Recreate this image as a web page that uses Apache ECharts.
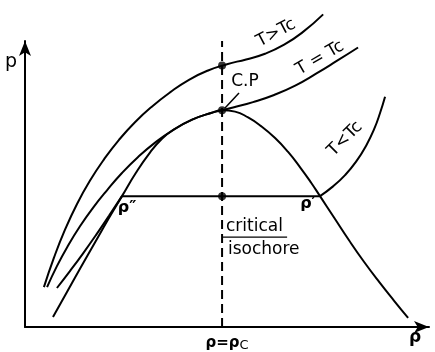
<!DOCTYPE html>
<html>
<head>
<meta charset="utf-8">
<script src="https://cdn.jsdelivr.net/npm/echarts@6/dist/echarts.min.js"></script>
<style>
  html, body { margin: 0; padding: 0; background: #fff; }
  #chart { width: 435px; height: 352px; }
</style>
</head>
<body>
<div id="chart"></div>
<script>
"use strict";

// density in units of rho_c, pressure in units of p_c
var isothermAbove = [
  [0.096, 0.184], [0.147, 0.320], [0.203, 0.449], [0.264, 0.568], [0.330, 0.676],
  [0.401, 0.774], [0.477, 0.864], [0.558, 0.945], [0.645, 1.018], [0.736, 1.083],
  [0.832, 1.141], [0.929, 1.184], [1.025, 1.213], [1.122, 1.235], [1.218, 1.261],
  [1.315, 1.303], [1.411, 1.362], [1.513, 1.443]
];
var isothermCritical = [
  [0.112, 0.184], [0.162, 0.281], [0.218, 0.375], [0.279, 0.465], [0.345, 0.550],
  [0.416, 0.631], [0.492, 0.711], [0.574, 0.785], [0.660, 0.851], [0.751, 0.909],
  [0.848, 0.957], [0.944, 0.988], [1.000, 1.000], [1.056, 1.013], [1.157, 1.038],
  [1.264, 1.071], [1.371, 1.114], [1.477, 1.169], [1.584, 1.229], [1.690, 1.290]
];
var coexistence = [
  [0.142, 0.046], [0.213, 0.162], [0.284, 0.277], [0.355, 0.390], [0.426, 0.503],
  [0.492, 0.604], [0.563, 0.712], [0.635, 0.806], [0.695, 0.869], [0.751, 0.909],
  [0.848, 0.957], [0.944, 0.988], [1.000, 1.000], [1.066, 0.994], [1.132, 0.967],
  [1.198, 0.927], [1.269, 0.872], [1.335, 0.808], [1.396, 0.737], [1.452, 0.666],
  [1.497, 0.604], [1.569, 0.504], [1.645, 0.399], [1.721, 0.300], [1.797, 0.208],
  [1.873, 0.121], [1.944, 0.042]
];
var belowGas = [
  [0.162, 0.180], [0.228, 0.258], [0.294, 0.339], [0.360, 0.424], [0.426, 0.513],
  [0.492, 0.604]
];
var tieLine = [[0.492, 0.604], [1.497, 0.604]];
var belowLiquid = [
  [1.497, 0.604], [1.563, 0.649], [1.624, 0.701], [1.680, 0.763], [1.731, 0.837],
  [1.772, 0.914], [1.802, 0.989], [1.827, 1.063]
];
var criticalIsochore = [[1, 0], [1, 1.32]];
var isochoreLeader = [[1, 0.415], [1.33, 0.415]];
var markedPoints = [[1, 1.207], [1, 1], [1, 0.604]];

var curveNames = ['T>Tc', 'T = Tc', 'T<Tc'];

var chart = echarts.init(document.getElementById('chart'));
var font = '"DejaVu Sans", sans-serif';

function curve(data, extra) {
  return Object.assign({
    type: 'line',
    data: data,
    smooth: true,
    symbol: 'none',
    clip: false,
    silent: true,
    lineStyle: { color: '#000', width: 2 }
  }, extra || {});
}

function label(text, x, y, size, deg, weight) {
  return {
    type: 'text',
    x: x,
    y: y,
    rotation: (deg || 0) * Math.PI / 180,
    style: {
      text: text,
      font: (weight || 'normal') + ' ' + size + 'px ' + font,
      fill: '#000',
      align: 'center',
      verticalAlign: 'middle'
    }
  };
}

var option = {
  animation: false,
  backgroundColor: '#fff',
  grid: { left: 25, right: 6, top: 41, bottom: 25 },
  xAxis: {
    type: 'value',
    min: 0,
    max: 2.05,
    axisLine: {
      lineStyle: { color: '#000', width: 2 },
      symbol: ['none', 'arrow'],
      symbolSize: [9, 15]
    },
    axisTick: { show: false },
    axisLabel: { show: false },
    splitLine: { show: false }
  },
  yAxis: {
    type: 'value',
    min: 0,
    max: 1.32,
    axisLine: {
      lineStyle: { color: '#000', width: 2 },
      symbol: ['none', 'arrow'],
      symbolSize: [9, 15]
    },
    axisTick: { show: false },
    axisLabel: { show: false },
    splitLine: { show: false }
  },
  series: [
    curve(isothermAbove),
    curve(isothermCritical),
    curve(coexistence),
    curve(belowGas),
    curve(tieLine, { smooth: false }),
    curve(belowLiquid),
    curve(criticalIsochore, { smooth: false, lineStyle: { color: '#000', width: 2, type: [9, 5] } }),
    curve(isochoreLeader, { smooth: false, lineStyle: { color: '#000', width: 1.2 } }),
    {
      type: 'scatter',
      data: markedPoints,
      symbolSize: 8,
      itemStyle: { color: '#000' },
      silent: true
    }
  ],
  graphic: [
    label('p', 11, 62, 19),
    label('ρ', 415, 338, 17, 0, 'bold'),
    {
      type: 'text',
      x: 227,
      y: 343,
      style: {
        text: 'ρ=ρ{s|C}',
        font: 'bold 15px ' + font,
        fill: '#000',
        align: 'center',
        verticalAlign: 'middle',
        rich: { s: { font: '13px ' + font, padding: [6, 0, 0, 0] } }
      }
    },
    label(curveNames[0], 276, 33, 17, 28),
    label(curveNames[1], 320, 58, 17, 30),
    label(curveNames[2], 345, 139, 17, 45),
    label('C.P', 245, 82, 17),
    {
      type: 'line',
      shape: { x1: 225, y1: 108, x2: 239, y2: 93 },
      style: { stroke: '#000', lineWidth: 1.5 }
    },
    label('ρ″', 127, 208, 16, 0, 'bold'),
    label('ρ′', 308, 204, 16, 0, 'bold'),
    {
      type: 'text',
      x: 226,
      y: 227,
      style: { text: 'critical', font: '17px ' + font, fill: '#000', verticalAlign: 'middle' }
    },
    {
      type: 'text',
      x: 228,
      y: 250,
      style: { text: 'isochore', font: '17px ' + font, fill: '#000', verticalAlign: 'middle' }
    }
  ]
};

chart.setOption(option);
</script>
</body>
</html>
